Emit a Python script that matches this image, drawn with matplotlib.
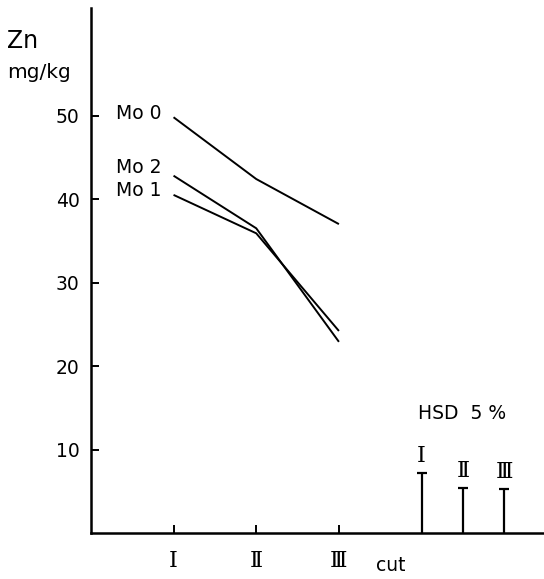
import matplotlib.pyplot as plt

# cuts on the x axis
cuts = [1, 2, 3]
cut_labels = ["Ⅰ", "Ⅱ", "Ⅲ"]

# Zn content (mg/kg) per Mo level
mo0 = [49.8, 42.4, 37.0]
mo2 = [42.8, 36.5, 22.9]
mo1 = [40.5, 35.9, 24.2]
series_names = ["Mo 0", "Mo 2", "Mo 1"]

# HSD 5 % bars
hsd_pos = [4.0, 4.5, 5.0]
hsd_vals = [7.2, 5.4, 5.3]

yticks = [10, 20, 30, 40, 50]

fig = plt.figure(figsize=(5.44, 5.79), dpi=100)
ax = fig.add_axes([0.167, 0.0794, 0.833, 0.907])

for vals in (mo0, mo2, mo1):
    ax.plot(cuts, vals, color="black", lw=1.4, solid_capstyle="butt")

# series labels left of the first point
label_y = [50.2, 43.8, 41.0]
for name, yy in zip(series_names, label_y):
    ax.text(0.85, yy, name, ha="right", va="center", fontsize=13.5)

# HSD bars
ax.vlines(hsd_pos, 0, hsd_vals, color="black", lw=1.6)
ax.plot(hsd_pos, hsd_vals, ls="none", marker="_", ms=7, mew=1.6, color="black")
for xp, v, lab in zip(hsd_pos, hsd_vals, cut_labels):
    ax.text(xp, v + 0.7, lab, ha="center", va="bottom", fontsize=16,
            family="DejaVu Serif")
ax.text(3.96, 14.3, "HSD  5 %", ha="left", va="center", fontsize=13.5)

ax.set_xlim(0, 5.48)
ax.set_ylim(0, 62.9)
ax.set_xticks(cuts)
ax.set_xticklabels(cut_labels, family="DejaVu Serif", fontsize=16)
ax.set_yticks(yticks)
ax.set_yticklabels([str(t) for t in yticks], fontsize=13.5)
ax.tick_params(direction="in", length=6, width=1.4, pad=8)
ax.tick_params(axis="x", pad=12)

for s in ("top", "right"):
    ax.spines[s].set_visible(False)
for s in ("left", "bottom"):
    ax.spines[s].set_linewidth(1.8)

ax.text(3.45, -3.9, "cut", ha="left", va="center", fontsize=13.5)
fig.text(0.013, 0.929, "Zn", fontsize=17, ha="left", va="center")
fig.text(0.013, 0.874, "mg/kg", fontsize=14.5, ha="left", va="center")

fig.savefig("out.png", dpi=100)
